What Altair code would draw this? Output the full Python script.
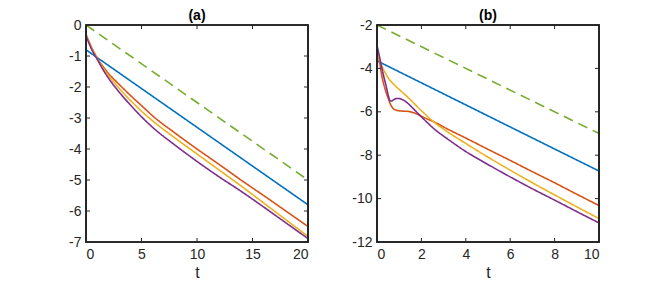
import altair as alt
import pandas as pd

# ---------------- data: panel (a) ----------------
a_t_lin = [0, 20]
a_green = [0.0, -5.0]
a_blue = [-0.8, -5.8]
a_t_curve = [0, 0.25, 0.5, 0.75, 1, 1.5, 2, 3, 4, 5, 6, 8, 10, 12, 14, 16, 18, 20]
a_red = [-0.3, -0.52, -0.72, -0.9, -1.06, -1.32, -1.55, -1.92, -2.27, -2.6, -2.93,
         -3.48, -4.0, -4.5, -5.01, -5.5, -6.0, -6.5]
a_yellow = [-0.3, -0.53, -0.74, -0.92, -1.08, -1.37, -1.62, -2.05, -2.43, -2.78, -3.09,
            -3.64, -4.16, -4.68, -5.2, -5.74, -6.28, -6.82]
a_purple = [-0.34, -0.57, -0.78, -0.95, -1.1, -1.42, -1.7, -2.17, -2.58, -2.96, -3.3,
            -3.87, -4.4, -4.9, -5.37, -5.87, -6.38, -6.89]
a_xticks = [0, 5, 10, 15, 20]
a_yticks = [-7, -6, -5, -4, -3, -2, -1, 0]

# ---------------- data: panel (b) ----------------
b_t_lin = [0, 10]
b_green = [-2.0, -7.0]
b_blue = [-3.65, -8.73]
b_t_red = [0, 0.1, 0.21, 0.35, 0.51, 0.62, 0.73, 0.85, 0.96, 1.2, 1.4, 1.7, 2.15, 2.6,
           3, 4, 5, 6, 7, 8, 9, 10]
b_red = [-3.12, -3.6, -4.3, -4.9, -5.39, -5.68, -5.85, -5.92, -5.95, -5.97, -5.98, -6.06,
         -6.28, -6.48, -6.7, -7.21, -7.73, -8.24, -8.76, -9.27, -9.8, -10.32]
b_t_purple = [0, 0.1, 0.2, 0.3, 0.42, 0.51, 0.58, 0.66, 0.75, 0.88, 1.0, 1.1, 1.25, 1.4,
              1.6, 1.85, 2.3, 2.68, 3, 4, 5, 6, 7, 8, 9, 10]
b_purple = [-2.95, -3.4, -3.9, -4.35, -4.85, -5.25, -5.48, -5.5, -5.44, -5.39, -5.39,
            -5.42, -5.5, -5.62, -5.82, -6.08, -6.53, -6.88, -7.12, -7.83, -8.43, -9.0,
            -9.55, -10.07, -10.6, -11.12]
b_t_yellow = [0, 0.12, 0.24, 0.36, 0.55, 0.81, 1.1, 1.4, 2.0, 2.6, 3, 4, 5, 6, 7, 8, 9, 10]
b_yellow = [-3.25, -3.6, -3.95, -4.18, -4.5, -4.79, -5.06, -5.34, -5.95, -6.5, -6.8,
            -7.46, -8.09, -8.69, -9.27, -9.83, -10.38, -10.92]
b_xticks = [0, 2, 4, 6, 8, 10]
b_yticks = [-12, -10, -8, -6, -4, -2]

series = ["blue", "red", "yellow", "purple", "green"]
colors = ["#0072BD", "#D95319", "#EDB120", "#7E2F8E", "#77AC30"]
dashes = [[1, 0], [1, 0], [1, 0], [1, 0], [10, 6]]

AX = "#262626"
FONT = "Liberation Sans"
W, H = 222, 217
TICK = 4


def long_df(parts):
    rows = []
    for name, ts, vs in parts:
        for i, (t, v) in enumerate(zip(ts, vs)):
            rows.append({"s": name, "t": t, "v": v, "o": i})
    return pd.DataFrame(rows)


def panel(df, xticks, yticks, xdom, ydom, title):
    xs = alt.Scale(domain=xdom, nice=False, zero=False)
    ys = alt.Scale(domain=ydom, nice=False, zero=False)
    xaxis = alt.Axis(values=xticks, title="t", grid=False, ticks=False, domain=False,
                     labelExpr="'' + datum.value", labelFontSize=14, labelPadding=5,
                     labelColor=AX, labelFont=FONT, titleFont=FONT, titleFontSize=16,
                     titleFontWeight="normal", titleColor=AX, titlePadding=3)
    yaxis = alt.Axis(values=yticks, title=None, grid=False, ticks=False, domain=False,
                     labelExpr="'' + datum.value", labelFontSize=14, labelPadding=5,
                     labelColor=AX, labelFont=FONT)
    lines = alt.Chart(df).mark_line(strokeWidth=1.6, interpolate="monotone", clip=True).encode(
        x=alt.X("t:Q", scale=xs, axis=xaxis, title="t"),
        y=alt.Y("v:Q", scale=ys, axis=yaxis, title=None),
        color=alt.Color("s:N", scale=alt.Scale(domain=series, range=colors), legend=None),
        strokeDash=alt.StrokeDash("s:N", scale=alt.Scale(domain=series, range=dashes), legend=None),
        order="o:Q",
    )
    xt = pd.DataFrame({"t": xticks})
    yt = pd.DataFrame({"v": yticks})
    bottom = alt.Chart(xt).mark_rule(color=AX, strokeWidth=1).encode(
        x=alt.X("t:Q", scale=xs, axis=xaxis, title="t"), y=alt.value(H), y2=alt.value(H - TICK))
    top = alt.Chart(xt).mark_rule(color=AX, strokeWidth=1).encode(
        x=alt.X("t:Q", scale=xs, axis=xaxis, title="t"), y=alt.value(0), y2=alt.value(TICK))
    left = alt.Chart(yt).mark_rule(color=AX, strokeWidth=1).encode(
        y=alt.Y("v:Q", scale=ys, axis=yaxis, title=None), x=alt.value(0), x2=alt.value(TICK))
    right = alt.Chart(yt).mark_rule(color=AX, strokeWidth=1).encode(
        y=alt.Y("v:Q", scale=ys, axis=yaxis, title=None), x=alt.value(W - TICK), x2=alt.value(W))
    frame = alt.Chart(xt).mark_rect(filled=False, stroke=AX, strokeWidth=1.2).encode(
        x=alt.value(0), x2=alt.value(W), y=alt.value(0), y2=alt.value(H))
    return alt.layer(lines, bottom, top, left, right, frame).properties(
        width=W, height=H,
        title=alt.TitleParams(title, fontSize=14, font=FONT, fontWeight="bold", color="#000000",
                              offset=-5, anchor="middle"),
    )


df_a = long_df([
    ("blue", a_t_lin, a_blue),
    ("red", a_t_curve, a_red),
    ("yellow", a_t_curve, a_yellow),
    ("purple", a_t_curve, a_purple),
    ("green", a_t_lin, a_green),
])
df_b = long_df([
    ("blue", b_t_lin, b_blue),
    ("red", b_t_red, b_red),
    ("yellow", b_t_yellow, b_yellow),
    ("purple", b_t_purple, b_purple),
    ("green", b_t_lin, b_green),
])

pa = panel(df_a, a_xticks, a_yticks, [0, 20], [-7, 0], "(a)")
pb = panel(df_b, b_xticks, b_yticks, [0, 10], [-12, -2], "(b)")

chart = alt.hconcat(pa, pb, spacing=69, bounds="flush").properties(
    padding={"left": 60, "top": 0, "right": 0, "bottom": 0}
).configure_view(stroke=None).configure(background="white")

chart.save("out.html", embed_options={"renderer": "svg", "actions": False})
